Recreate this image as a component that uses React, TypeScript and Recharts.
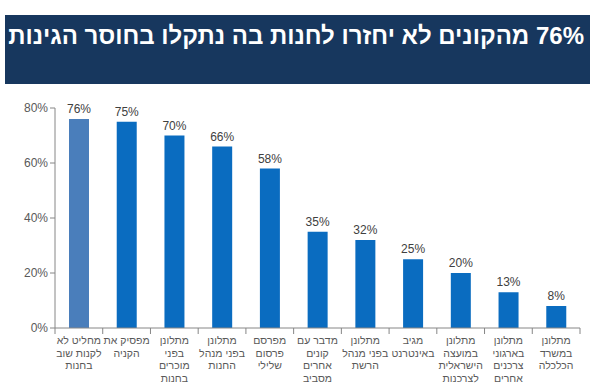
import { Bar, BarChart, Cell, LabelList, XAxis, YAxis } from "recharts";

const title = "76% מהקונים לא יחזרו לחנות בה נתקלו בחוסר הגינות";

const categories = [
  "מחליט לא\nלקנות שוב\nבחנות",
  "מפסיק את\nהקניה",
  "מתלונן\nבפני\nמוכרים\nבחנות",
  "מתלונן\nבפני מנהל\nהחנות",
  "מפרסם\nפרסום\nשלילי",
  "מדבר עם\nקונים\nאחרים\nמסביב",
  "מתלונן\nבפני מנהל\nהרשת",
  "מגיב\nבאינטרנט",
  "מתלונן\nבמועצה\nהישראלית\nלצרכנות",
  "מתלונן\nבארגוני\nצרכנים\nאחרים",
  "מתלונן\nבמשרד\nהכלכלה",
];

const values = [76, 75, 70, 66, 58, 35, 32, 25, 20, 13, 8];

const yTicks = [0, 20, 40, 60, 80];

const rows = categories.map((name, i) => ({ name, value: values[i] }));

const font = '"Liberation Sans", Arial, sans-serif';
const axisGray = "#868686";
const textGray = "#595959";

function CategoryTick(props: any) {
  const { x, y, payload } = props;
  const half = payload?.offset ?? 23.9;
  const lines = String(payload.value).split("\n");
  return (
    <g>
      <line x1={x + half} y1={y - 8} x2={x + half} y2={y - 2} stroke={axisGray} />
      {payload.index === 0 && (
        <line x1={x - half} y1={y - 8} x2={x - half} y2={y - 2} stroke={axisGray} />
      )}
      <text
        x={x}
        y={y}
        textAnchor="middle"
        direction="rtl"
        fontSize={10.5}
        fontFamily={font}
        fill={textGray}
      >
        {lines.map((l, i) => (
          <tspan key={i} x={x} dy={i === 0 ? 8 : 12.5}>
            {l}
          </tspan>
        ))}
      </text>
    </g>
  );
}

export default function App() {
  return (
    <div
      style={{
        position: "absolute",
        left: 0,
        top: 0,
        width: 600,
        height: 389,
        background: "#fff",
      }}
    >
      <div
        style={{
          position: "absolute",
          left: 5,
          top: 15,
          width: 585,
          height: 69,
          background: "#17375e",
          color: "#fff",
          fontFamily: font,
          fontWeight: "bold",
          fontSize: 24,
          direction: "rtl",
          boxSizing: "border-box",
          paddingRight: 6,
          paddingTop: 7,
          whiteSpace: "nowrap",
          overflow: "hidden",
        }}
      >
        {title}
      </div>
      <BarChart
        width={600}
        height={389}
        data={rows}
        margin={{ top: 108, right: 20, bottom: 0, left: 0 }}
      >
        <XAxis
          dataKey="name"
          interval={0}
          tickLine={false}
          stroke={axisGray}
          tick={<CategoryTick />}
          height={61}
        />
        <YAxis
          width={55}
          domain={[0, 80]}
          ticks={yTicks}
          tickFormatter={(v: number) => `${v}%`}
          stroke={axisGray}
          tickSize={5}
          tick={{ fontSize: 12, fontFamily: font, fill: textGray }}
        />
        <Bar dataKey="value" barSize={20} fill="#0070c0" isAnimationActive={false}>
          {rows.map((_, i) => (
            <Cell key={i} fill={i === 0 ? "#4a7ebb" : "#0a6cc0"} />
          ))}
          <LabelList
            dataKey="value"
            position="top"
            offset={6}
            formatter={(v: any) => `${v}%`}
            style={{ fontSize: 12, fontFamily: font, fill: "#404040" }}
          />
        </Bar>
      </BarChart>
    </div>
  );
}
